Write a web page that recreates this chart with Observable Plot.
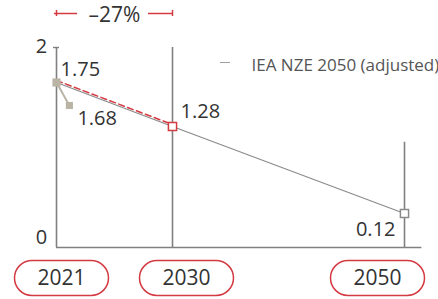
<!DOCTYPE html>
<html>
<head>
<meta charset="utf-8">
<script src="https://cdn.jsdelivr.net/npm/d3@7"></script>
<script src="https://cdn.jsdelivr.net/npm/@observablehq/plot@0.6"></script>
<style>
  html, body { margin: 0; padding: 0; background: #fff; }
  #chart { width: 438px; height: 299px; }
</style>
</head>
<body>
<div id="chart"></div>
<script>
// ---- data ----
const years = [2021, 2030, 2050];
const values = [1.75, 1.28, 0.12];
const adjustedYear = 2021;
const adjustedValue = 1.68;
const axisTops = [2, 2, 1.07];
const yTickValues = [0, 2];
const legendLabel = "IEA NZE 2050 (adjusted)";

// ---- derived tables ----
const series = years.map((year, i) => ({year, value: values[i]}));
const firstPeriod = series.slice(0, 2);
const change = (values[1] - values[0]) / values[0];
const changeLabel = "\u2013" + Math.round(Math.abs(change) * 100) + "%";
const axes = years.map((year, i) => ({year, top: axisTops[i]}));
const callout = {year: adjustedYear + 1, value: adjustedValue};

// ---- styles ----
const red = "#d43a42";
const grey = "#8a8a8a";
const beige = "#b9b4a4";
const ink = "#333333";
const pillShift = [5, 14, -27];
const yLabelDy = [-10, -1];

const pill = {
  draw(context) {
    const w = 47, h = 17.5;
    context.moveTo(-w + h, -h);
    context.lineTo(w - h, -h);
    context.arc(w - h, 0, h, -Math.PI / 2, Math.PI / 2);
    context.lineTo(-w + h, h);
    context.arc(-w + h, 0, h, Math.PI / 2, Math.PI * 3 / 2);
    context.closePath();
  }
};

const pillMarks = years.flatMap((year, i) => [
  Plot.dot([year], {x: d => d, y: () => 0, symbol: pill, r: 1, fill: "white", stroke: red, strokeWidth: 1.5, dx: pillShift[i], dy: 30.5}),
  Plot.text([year], {x: d => d, y: () => 0, text: d => String(d), fontSize: 21, fill: ink, dx: pillShift[i], dy: 30.5})
]);

const yLabelMarks = yTickValues.map((v, i) =>
  Plot.text([v], {x: () => years[0], y: d => d, text: d => String(d), fontSize: 20, fill: ink, dx: -15, dy: yLabelDy[i]})
);

const chart = Plot.plot({
  width: 438,
  height: 299,
  marginTop: 0, marginRight: 0, marginBottom: 0, marginLeft: 0,
  style: {fontFamily: "'Open Sans', sans-serif", background: "white"},
  x: {type: "linear", domain: [2021, 2030, 2050], range: [56, 172, 404], axis: null},
  y: {type: "linear", domain: [0, 0.12, 1.28, 1.68, 1.75, 2], range: [247, 213, 126, 105, 82, 47], axis: null},
  marks: [
    // vertical year axes
    Plot.ruleX(axes, {x: "year", y1: 0, y2: "top", stroke: "#808080", strokeWidth: 1.6}),
    // baseline
    Plot.ruleY([0], {x1: 2021, x2: 2051.5, stroke: "#808080", strokeWidth: 1.6}),
    // top tick on first axis
    Plot.ruleY([2], {x1: 2021, x2: 2021, insetLeft: -3, insetRight: -3, stroke: "#808080", strokeWidth: 1.4}),
    // y labels
    ...yLabelMarks,
    // -27% bracket
    Plot.ruleY([2], {x1: years[0], x2: years[1], insetLeft: -2, insetRight: 95, dy: -34, stroke: red, strokeWidth: 1.5}),
    Plot.ruleY([2], {x1: years[0], x2: years[1], insetLeft: 92, dy: -34, stroke: red, strokeWidth: 1.5}),
    Plot.ruleX([years[0], years[1]], {x: d => d, y1: 2, y2: 2, insetTop: -3, insetBottom: -3, dy: -34, stroke: red, strokeWidth: 1.5}),
    Plot.text([changeLabel], {x: () => (years[0] + years[1]) / 2, y: () => 2, text: d => d, dy: -32, fontSize: 21, fill: ink}),
    // legend
    Plot.ruleY([0], {x1: 2021, x2: 2021, insetLeft: 164, insetRight: -174, dy: -185, stroke: "#a0a0a0", strokeWidth: 1}),
    Plot.text([legendLabel], {frameAnchor: "top-left", textAnchor: "start", dx: 251, dy: 58, fontSize: 17, fill: "#555"}),
    // data line
    Plot.line(series, {x: "year", y: "value", stroke: grey, strokeWidth: 1.2}),
    Plot.line(firstPeriod, {x: "year", y: "value", stroke: red, strokeWidth: 1.5, strokeDasharray: "6,3.5", dy: -2}),
    // adjusted callout
    Plot.link([{x1: adjustedYear, y1: values[0], x2: callout.year, y2: callout.value}], {x1: "x1", y1: "y1", x2: "x2", y2: "y2", stroke: beige, strokeWidth: 2}),
    Plot.dot([callout], {x: "year", y: "value", symbol: "square", r: 4, fill: beige}),
    // points
    Plot.dot([series[0]], {x: "year", y: "value", symbol: "square", r: 4.6, fill: beige}),
    Plot.dot([series[1]], {x: "year", y: "value", symbol: "square", r: 4.6, fill: "white", stroke: red, strokeWidth: 1.5}),
    Plot.dot([series[2]], {x: "year", y: "value", symbol: "square", r: 4.6, fill: "white", stroke: grey, strokeWidth: 1.5}),
    // value labels
    Plot.text([series[0]], {x: "year", y: "value", text: d => d.value.toFixed(2), textAnchor: "start", dx: 4, dy: -13, fontSize: 20, fill: ink}),
    Plot.text([callout], {x: "year", y: "value", text: d => d.value.toFixed(2), textAnchor: "start", dx: 8, dy: 13, fontSize: 20, fill: ink}),
    Plot.text([series[1]], {x: "year", y: "value", text: d => d.value.toFixed(2), textAnchor: "start", dx: 8, dy: -15, fontSize: 20, fill: ink}),
    Plot.text([series[2]], {x: "year", y: "value", text: d => d.value.toFixed(2), textAnchor: "end", dx: -9, dy: 16, fontSize: 20, fill: ink}),
    // year pills
    ...pillMarks
  ]
});
document.getElementById("chart").appendChild(chart);
</script>
</body>
</html>
